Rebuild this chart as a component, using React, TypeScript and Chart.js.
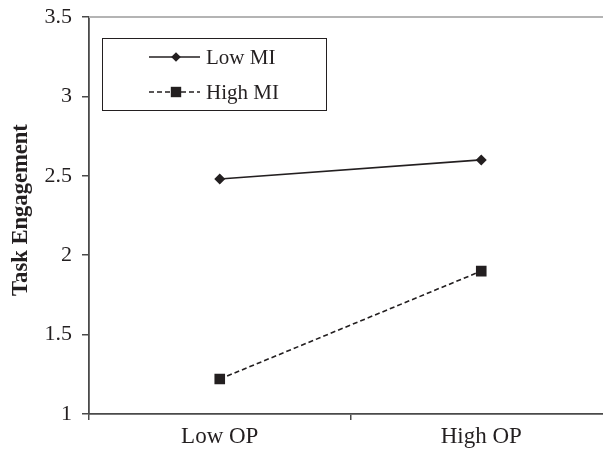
import React, { useEffect, useRef } from "react";
import { Chart, registerables } from "chart.js";

Chart.register(...registerables);

const categories = ["Low OP", "High OP"];
const lowMI = [2.48, 2.6];
const highMI = [1.22, 1.9];
const seriesLabels = ["Low MI", "High MI"];
const yTicks = [1, 1.5, 2, 2.5, 3, 3.5];
const yTitle = "Task Engagement";

const INK = "#231f20";
const AXIS = "#4a4a4a";
const SERIF = "'Liberation Serif', 'Times New Roman', serif";

const frameAndLegend = {
  id: "frameAndLegend",
  afterDraw(chart: any) {
    const { ctx, chartArea } = chart;
    const { left, top, right } = chartArea;
    ctx.save();
    ctx.strokeStyle = "#b4b4b4";
    ctx.lineWidth = 2;
    ctx.beginPath();
    ctx.moveTo(left, top);
    ctx.lineTo(right, top);
    ctx.stroke();

    // y-axis title
    ctx.save();
    ctx.translate(21, 210);
    ctx.rotate(-Math.PI / 2);
    ctx.fillStyle = INK;
    ctx.font = `bold 22.6px ${SERIF}`;
    ctx.textAlign = "center";
    ctx.textBaseline = "middle";
    ctx.fillText(yTitle, 0, 0);
    ctx.restore();

    const bx = left + 13.5;
    const by = top + 21.5;
    const bw = 224;
    const bh = 72;
    ctx.strokeStyle = INK;
    ctx.lineWidth = 1;
    ctx.strokeRect(bx, by, bw, bh);

    const rows = [by + 18.5, by + 53.5];
    chart.data.datasets.forEach((ds: any, i: number) => {
      const y = rows[i];
      const x0 = left + 60;
      const x1 = left + 111;
      const mx = left + 87;
      ctx.strokeStyle = ds.borderColor;
      ctx.lineWidth = ds.borderWidth;
      ctx.setLineDash(ds.borderDash || []);
      ctx.beginPath();
      ctx.moveTo(x0, y);
      ctx.lineTo(x1, y);
      ctx.stroke();
      ctx.setLineDash([]);
      ctx.fillStyle = ds.pointBackgroundColor;
      ctx.beginPath();
      if (ds.pointStyle === "rectRot") {
        const r = 4.8;
        ctx.moveTo(mx - r, y);
        ctx.lineTo(mx, y - r);
        ctx.lineTo(mx + r, y);
        ctx.lineTo(mx, y + r);
        ctx.closePath();
      } else {
        const s = 5.2;
        ctx.rect(mx - s, y - s, 2 * s, 2 * s);
      }
      ctx.fill();
      ctx.fillStyle = INK;
      ctx.font = `21px ${SERIF}`;
      ctx.textAlign = "left";
      ctx.textBaseline = "alphabetic";
      ctx.fillText(ds.label, left + 117, y + 7);
    });
    ctx.restore();
  },
};

export default function App() {
  const ref = useRef<HTMLCanvasElement>(null);
  useEffect(() => {
    if (!ref.current) return;
    const chart = new Chart(ref.current, {
      type: "line",
      data: {
        labels: categories,
        datasets: [
          {
            label: seriesLabels[0],
            data: lowMI,
            borderColor: INK,
            backgroundColor: INK,
            pointBackgroundColor: INK,
            pointBorderColor: INK,
            borderWidth: 1.6,
            pointStyle: "rectRot",
            pointRadius: 5.5,
            pointBorderWidth: 0,
          },
          {
            label: seriesLabels[1],
            data: highMI,
            borderColor: INK,
            backgroundColor: INK,
            pointBackgroundColor: INK,
            pointBorderColor: INK,
            borderWidth: 1.6,
            borderDash: [5, 3],
            pointStyle: "rect",
            pointRadius: 7.5,
            pointBorderWidth: 0,
          },
        ],
      },
      options: {
        animation: false,
        responsive: false,
        devicePixelRatio: 1,
        layout: {
          autoPadding: false,
          padding: { top: 17, left: 0, right: 0, bottom: 0 },
        },
        plugins: { legend: { display: false }, tooltip: { enabled: false } },
        scales: {
          x: {
            type: "category",
            offset: true,
            grid: {
              offset: true,
              drawOnChartArea: false,
              drawTicks: true,
              tickLength: 6,
              color: AXIS,
              lineWidth: 1.5,
            },
            border: { display: true, color: AXIS, width: 1.8 },
            ticks: {
              color: INK,
              font: { family: SERIF, size: 23 },
              padding: 3,
              maxRotation: 0,
              autoSkip: false,
            },
            afterFit(scale: any) {
              scale.height = 35;
              scale.paddingLeft = 0;
              scale.paddingRight = 0;
              scale.paddingTop = 0;
              scale.paddingBottom = 0;
            },
          },
          y: {
            min: 1,
            max: 3.5,
            afterBuildTicks(scale: any) {
              scale.ticks = yTicks.map((v) => ({ value: v }));
            },
            grid: {
              drawOnChartArea: false,
              drawTicks: true,
              tickLength: 7,
              color: AXIS,
              lineWidth: 1.5,
            },
            border: { display: true, color: AXIS, width: 1.8 },
            ticks: {
              color: INK,
              font: { family: SERIF, size: 22 },
              padding: 10,
              callback: (v: any) => String(v),
            },
            afterFit(scale: any) {
              scale.width = 89;
              scale.paddingLeft = 0;
              scale.paddingRight = 0;
              scale.paddingTop = 0;
              scale.paddingBottom = 0;
            },
          },
        },
      },
      plugins: [frameAndLegend],
    });
    return () => chart.destroy();
  }, []);
  return (
    <div
      style={{
        position: "fixed",
        left: 0,
        top: 0,
        width: 603,
        height: 449,
        overflow: "hidden",
        background: "#fff",
      }}
    >
      <canvas ref={ref} width={612} height={449} style={{ display: "block" }} />
    </div>
  );
}
